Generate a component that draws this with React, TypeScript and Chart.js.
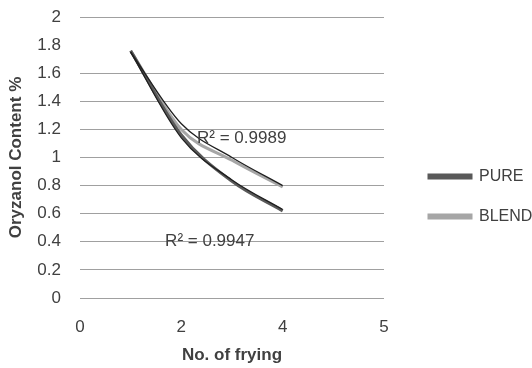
import { useEffect, useRef } from "react";
import { Chart, registerables } from "chart.js";
Chart.register(...registerables);

const frying = [1, 2, 3, 4];
const pure = [1.76, 1.16, 0.83, 0.62];
const blend = [1.76, 1.2, 0.98, 0.79];
const pureTrend = [1.75, 1.14, 0.84, 0.63];
const blendTrend = [1.75, 1.24, 1.0, 0.8];
const xTickValues = [0, 2, 4, 6];
const xTickLabels = ["0", "2", "4", "5"];
const rSquaredTexts = ["R² = 0.9989", "R² = 0.9947"];
const rSquaredX = [2.31, 1.68];
const rSquaredY = [1.14, 0.4];

const FONT = "'Liberation Sans', Arial, sans-serif";
const TXT = "#404040";

const pts = (ys: number[]) => frying.map((x, i) => ({ x, y: ys[i] }));

const rLabelPlugin = {
  id: "rLabels",
  afterDatasetsDraw(chart: any) {
    const { ctx, scales } = chart;
    ctx.save();
    ctx.font = `17px ${FONT}`;
    ctx.fillStyle = TXT;
    ctx.textAlign = "left";
    ctx.textBaseline = "middle";
    rSquaredTexts.forEach((t, i) => {
      ctx.fillText(t, scales.x.getPixelForValue(rSquaredX[i]), scales.y.getPixelForValue(rSquaredY[i]));
    });
    ctx.restore();
  },
};

const noPad = (s: any) => {
  s.paddingTop = 0;
  s.paddingBottom = 0;
};

export default function App() {
  const ref = useRef<HTMLCanvasElement>(null);
  useEffect(() => {
    if (!ref.current) return;
    const chart = new Chart(ref.current, {
      type: "line",
      data: {
        datasets: [
          { label: "PURE", data: pts(pure), borderColor: "#595959", backgroundColor: "#595959", borderWidth: 3, pointRadius: 0, cubicInterpolationMode: "monotone", order: 2 },
          { label: "BLEND", data: pts(blend), borderColor: "#a6a6a6", backgroundColor: "#a6a6a6", borderWidth: 3, pointRadius: 0, cubicInterpolationMode: "monotone", order: 3 },
          { label: "trendPure", data: pts(pureTrend), borderColor: "#1f1f1f", borderWidth: 1.3, pointRadius: 0, cubicInterpolationMode: "monotone", order: 1 },
          { label: "trendBlend", data: pts(blendTrend), borderColor: "#1f1f1f", borderWidth: 1.3, pointRadius: 0, cubicInterpolationMode: "monotone", order: 0 },
        ] as any,
      },
      options: {
        responsive: false,
        animation: false,
        layout: { padding: { top: 17, bottom: 0, left: 0, right: 0 } },
        plugins: {
          tooltip: { enabled: false },
          legend: {
            position: "right",
            maxWidth: 127,
            title: { display: true, text: " ", font: { size: 8, lineHeight: 1 }, padding: 0 },
            labels: {
              boxWidth: 42,
              boxHeight: 3,
              padding: 24,
              color: TXT,
              font: { family: FONT, size: 16 },
              filter: (item: any) => item.text === "PURE" || item.text === "BLEND",
            },
          },
        },
        scales: {
          x: {
            type: "linear",
            min: 0,
            max: 6,
            grid: { display: false, drawTicks: false },
            border: { display: false },
            ticks: {
              stepSize: 2,
              padding: 19,
              color: TXT,
              font: { family: FONT, size: 17 },
              callback: (v: any) => {
                const i = xTickValues.indexOf(Number(v));
                return i >= 0 ? xTickLabels[i] : "";
              },
            },
            title: { display: true, text: "No. of frying", color: TXT, font: { family: FONT, size: 17, weight: "bold" }, padding: { top: 10, bottom: 2 } },
            afterFit: (s: any) => { s.height = 70; },
          },
          y: {
            min: 0,
            max: 2,
            grid: {
              drawTicks: false,
              color: (c: any) => (c.tick && Math.abs(c.tick.value - 1.8) < 1e-6 ? "rgba(0,0,0,0)" : "#a0a0a0"),
              lineWidth: 1,
            },
            border: { display: false },
            ticks: {
              stepSize: 0.2,
              padding: 19,
              color: TXT,
              font: { family: FONT, size: 17 },
              callback: (v: any) => String(Number(Number(v).toFixed(1))),
            },
            title: { display: true, text: "Oryzanol Content %", color: TXT, font: { family: FONT, size: 17, weight: "bold" }, padding: { top: 6, bottom: 0 } },
            afterFit: (s: any) => { s.width = 80; noPad(s); },
          },
          spacer: {
            type: "linear",
            position: "right",
            display: true,
            grid: { display: false, drawTicks: false },
            border: { display: false },
            ticks: { display: false },
            afterFit: (s: any) => { s.width = 21; noPad(s); },
          },
        },
      } as any,
      plugins: [rLabelPlugin],
    });
    return () => chart.destroy();
  }, []);
  return (
    <div style={{ position: "fixed", left: 0, top: 0, width: 532, height: 368, background: "#fff" }}>
      <canvas ref={ref} width={532} height={368} />
    </div>
  );
}
